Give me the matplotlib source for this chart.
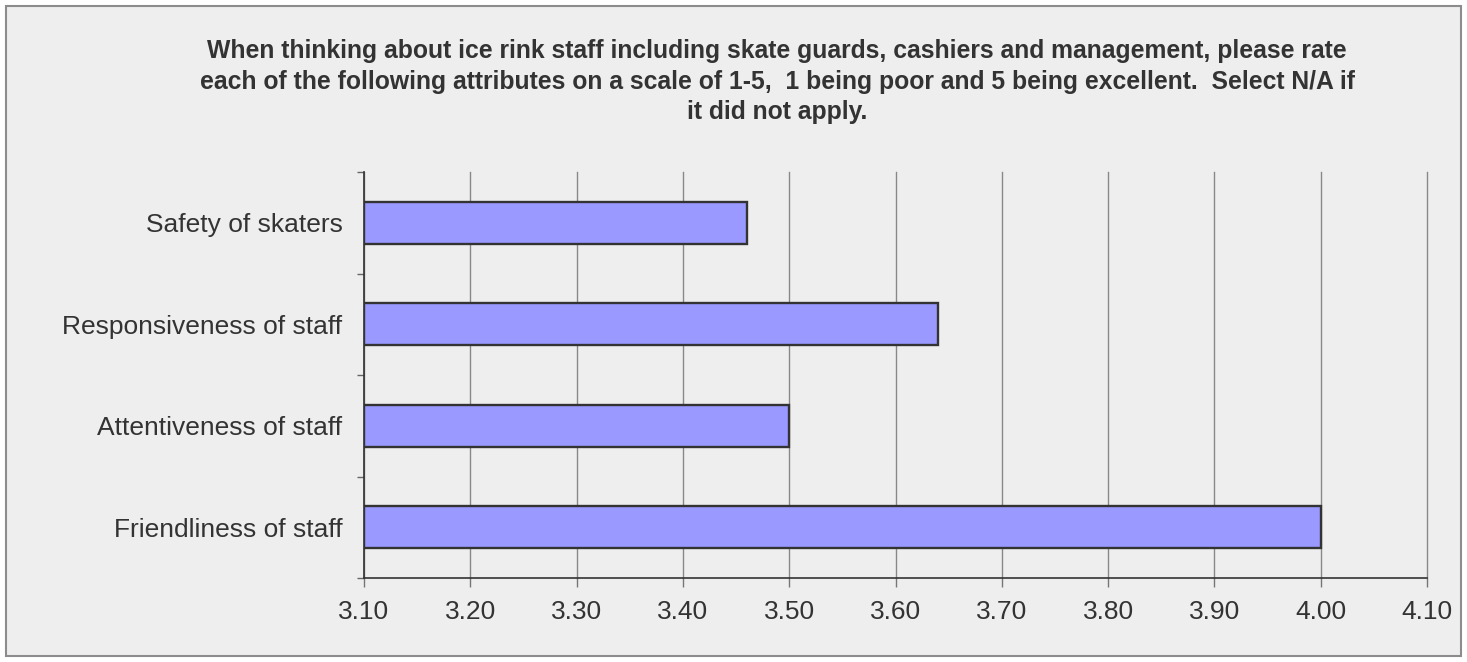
import matplotlib
matplotlib.use('Agg')
import matplotlib.pyplot as plt
from matplotlib.patches import Rectangle
from matplotlib.ticker import FixedLocator

# Данные (снизу вверх)
categories = ['Friendliness of staff', 'Attentiveness of staff',
              'Responsiveness of staff', 'Safety of skaters']
values = [4.00, 3.50, 3.64, 3.46]
x_ticks = [3.10, 3.20, 3.30, 3.40, 3.50, 3.60, 3.70, 3.80, 3.90, 4.00, 4.10]
x_min = 3.10
x_max = 4.10

title = ('When thinking about ice rink staff including skate guards, cashiers and management, please rate\n'
         'each of the following attributes on a scale of 1-5,  1 being poor and 5 being excellent.  Select N/A if\n'
         'it did not apply.')

plt.rcParams['font.family'] = ['Liberation Sans', 'DejaVu Sans']
txt = '#333333'
bg = '#eeeeee'

fig = plt.figure(figsize=(14.67, 6.62), dpi=100)
fig.patch.set_facecolor('white')
# Фон и рамка диаграммы
fig.patches.append(Rectangle((6 / 1467, 6 / 662), 1 - 12 / 1467, 1 - 12 / 662,
                             transform=fig.transFigure, facecolor=bg,
                             edgecolor='#8c8c8c', linewidth=1.5, zorder=-10))

ax = fig.add_axes([364 / 1467, 84 / 662, 1063 / 1467, 406 / 662])
ax.set_facecolor(bg)

ypos = list(range(len(categories)))
ax.barh(ypos, [v - x_min for v in values], left=x_min, height=0.41,
        color='#9999ff', edgecolor='#333333', linewidth=1.7, zorder=3)

ax.set_xlim(x_min, x_max)
ax.set_ylim(-0.5, len(categories) - 0.5)
ax.set_xticks(x_ticks)
ax.set_xticklabels(['%.2f' % t for t in x_ticks])
ax.set_yticks(ypos)
ax.set_yticklabels(categories)
ax.yaxis.set_minor_locator(FixedLocator([i - 0.5 for i in range(len(categories) + 1)]))

ax.tick_params(axis='y', which='major', length=0, pad=15.5, labelsize=19, labelcolor=txt)
ax.tick_params(axis='y', which='minor', length=5, width=1, color='#666666')
ax.tick_params(axis='x', which='major', length=6.5, width=1, color='#777777',
               pad=9, labelsize=19, labelcolor=txt)

ax.grid(axis='x', color='#888888', linewidth=1, zorder=1)
for gl in ax.get_xgridlines():
    gl.set_clip_on(False)  # линия 4.10 на краю не обрезается
for s in ['top', 'right']:
    ax.spines[s].set_visible(False)
ax.spines['left'].set_color('#333333')
ax.spines['bottom'].set_color('#333333')
ax.spines['left'].set_linewidth(1.2)
ax.spines['bottom'].set_linewidth(1.2)

fig.text(777 / 1467, 1 - 39 / 662, title, ha='center', va='top',
         fontsize=17.8, fontweight='bold', color=txt, linespacing=1.35)

fig.savefig('out.png', dpi=100, facecolor=fig.get_facecolor())
